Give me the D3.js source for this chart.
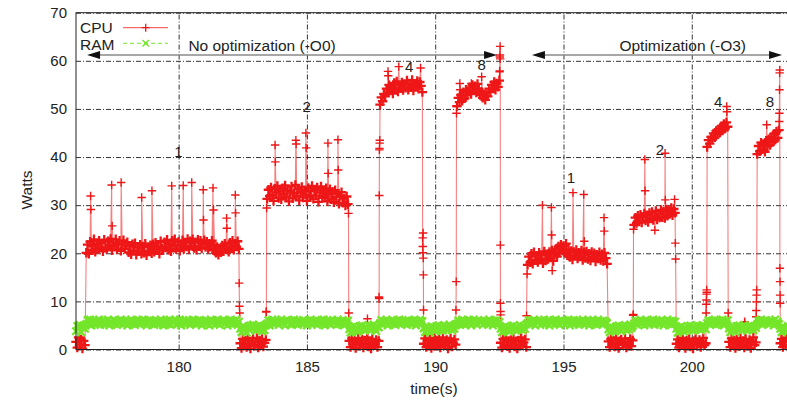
<!DOCTYPE html>
<html>
<head>
<meta charset="utf-8">
<script src="https://cdn.jsdelivr.net/npm/d3@7"></script>
<style>
  body { margin: 0; background: #fff; }
  svg { display: block; font-family: "Liberation Sans", Arial, Helvetica, sans-serif; }
</style>
</head>
<body>
<svg id="chart" width="787" height="400"></svg>
<script>
// readings every 0.05 s starting at 176.00 s, one row per second
const sampleStart = 176.0;
const sampleStep = 0.05;

const cpuWatts = [
  1.6, 0.4, 2.5, 1.0, 2.1, 0.2, 1.8, 0.9, 20.1, 21.8, 19.9, 22.4, 20.6, 21.5, 22.9, 20.3, 21.9, 20.8, 22.6, 21.2,
  22.1, 20.4, 22.8, 21.3, 20.9, 22.5, 21.7, 23.0, 20.6, 22.2, 21.4, 22.9, 20.8, 21.9, 22.6, 20.5, 21.8, 22.7, 20.9, 21.6,
  22.3, 20.2, 21.5, 19.8, 21.9, 20.6, 22.1, 19.7, 21.2, 20.4, 21.8, 19.9, 21.4, 20.1, 22.0, 19.6, 21.3, 20.5, 21.7, 20.0,
  21.9, 20.3, 22.2, 20.8, 21.4, 19.9, 22.5, 21.0, 20.6, 22.3, 21.2, 22.8, 20.7, 21.9, 20.4, 22.6, 21.5, 22.9, 20.9, 21.7,
  22.4, 20.5, 21.8, 22.7, 20.9, 22.2, 21.4, 23.0, 20.8, 22.5, 21.6, 22.9, 21.1, 22.3, 20.7, 22.8, 21.5, 22.6, 21.0, 22.1,
  22.7, 21.3, 22.4, 20.9, 22.0, 21.5, 22.6, 20.6, 21.7, 20.1, 21.3, 19.7, 21.0, 20.2, 21.6, 20.4, 22.0, 20.8, 21.4, 20.3,
  22.2, 21.0, 22.6, 20.7, 22.0, 21.4, 22.5, 20.9, 1.3, 0.3, 2.2, 0.8, 1.9, 0.5, 2.4, 1.1, 0.2, 1.7, 2.3, 0.7,
  1.5, 2.4, 0.4, 1.9, 0.9, 2.2, 0.6, 1.4, 2.0, 31.3, 33.2, 31.9, 33.7, 32.1, 30.9, 33.4, 32.6, 34.0, 31.5, 32.9,
  31.2, 33.5, 32.3, 34.1, 31.7, 33.0, 30.8, 32.8, 33.9, 31.4, 32.5, 34.2, 31.9, 33.3, 31.0, 32.7, 33.8, 31.6, 33.1, 32.2,
  30.9, 33.6, 31.8, 32.9, 34.0, 31.3, 33.2, 32.0, 33.7, 30.7, 32.6, 33.9, 31.5, 33.0, 31.9, 33.5, 30.8, 32.4, 33.3, 31.2,
  32.8, 30.6, 33.1, 31.7, 32.4, 30.3, 31.9, 32.7, 30.5, 31.4, 29.9, 31.8, 30.2, 1.8, 0.5, 2.3, 1.0, 2.0, 0.3, 1.6,
  2.4, 0.8, 1.3, 2.1, 0.4, 1.9, 1.1, 2.5, 0.6, 1.7, 0.2, 2.2, 1.4, 0.9, 2.0, 0.5, 1.8, 50.9, 52.4, 51.6,
  53.1, 52.6, 54.2, 53.4, 55.0, 53.8, 54.6, 53.2, 55.4, 54.1, 55.7, 53.6, 54.9, 54.3, 55.5, 53.9, 55.2, 54.4, 55.9, 54.0,
  55.3, 54.5, 56.0, 53.8, 55.1, 54.7, 55.8, 54.2, 55.6, 54.8, 53.5, 1.2, 2.3, 0.5, 1.8, 0.9, 2.1, 0.3, 1.5, 2.4,
  0.7, 1.9, 1.1, 2.2, 0.4, 1.6, 2.5, 0.8, 1.3, 2.0, 0.2, 1.7, 2.3, 0.6, 1.4, 2.1, 1.0, 50.6, 52.3, 51.4,
  52.9, 51.7, 53.5, 52.2, 54.0, 52.8, 53.6, 54.5, 53.1, 55.0, 53.9, 54.7, 53.4, 55.2, 54.1, 52.9, 53.6, 52.3, 53.0, 51.9,
  53.4, 52.6, 54.2, 53.5, 55.0, 54.3, 55.6, 54.0, 55.3, 54.6, 55.9, 1.4, 0.4, 2.2, 1.0, 2.4, 0.7, 1.8, 0.3, 2.0,
  1.2, 2.3, 0.6, 1.7, 0.2, 1.9, 1.0, 2.5, 0.8, 1.5, 2.1, 0.5, 17.6, 19.3, 18.1, 19.9, 17.8, 20.2, 18.6, 19.5,
  18.2, 20.1, 18.9, 19.6, 17.9, 20.4, 18.5, 19.8, 18.8, 20.3, 19.1, 20.6, 18.4, 19.7, 20.9, 19.3, 21.4, 20.2, 21.8, 20.6,
  21.5, 20.1, 22.0, 19.6, 20.8, 19.2, 20.5, 18.7, 20.3, 19.4, 20.7, 18.9, 20.1, 19.5, 20.6, 18.6, 20.2, 19.0, 20.4, 18.8,
  19.9, 18.5, 20.3, 19.2, 20.0, 18.3, 19.7, 18.9, 20.2, 18.6, 19.8, 18.4, 20.1, 19.0, 17.8, 1.7, 0.5, 2.2, 1.1, 1.9,
  0.6, 2.4, 1.3, 0.3, 1.8, 2.1, 0.9, 1.5, 2.3, 0.4, 1.6, 1.0, 2.2, 0.7, 1.9, 25.9, 27.4, 26.3, 27.8, 26.6,
  28.0, 26.4, 27.6, 28.3, 26.8, 27.9, 26.5, 28.4, 27.2, 28.6, 26.9, 27.7, 28.8, 27.0, 28.2, 27.4, 29.0, 27.5, 28.7, 27.3,
  29.1, 27.8, 28.9, 28.2, 29.4, 27.9, 29.2, 28.4, 1.2, 2.1, 0.4, 1.7, 0.9, 2.4, 1.4, 0.3, 1.9, 1.0, 2.2, 0.6,
  1.5, 0.2, 1.8, 2.3, 0.8, 1.2, 2.0, 0.5, 1.6, 2.4, 0.9, 1.3, 42.1, 43.5, 42.8, 44.2, 43.6, 44.9, 44.1, 45.4,
  44.7, 45.8, 45.1, 46.4, 45.5, 46.9, 45.9, 47.2, 46.3, 1.6, 0.5, 2.3, 1.1, 1.9, 0.3, 2.1, 1.4, 0.7, 2.4, 1.0,
  1.8, 0.4, 2.2, 1.2, 0.8, 2.0, 0.3, 1.7, 2.5, 0.9, 1.5, 40.6, 42.3, 41.2, 43.0, 41.6, 42.7, 41.1, 43.4, 42.2,
  43.7, 42.5, 44.2, 43.1, 44.8, 43.6, 45.3, 44.0, 45.6, 1.3, 2.2, 0.5, 1.8, 0.9, 2.4, 0.6, 1.6, 2.0, 0.3, 1.2
];

// extra cpu readings between the regular ones (spikes and switching edges), [time, watts]
const cpuSpikes = [
  [176.57, 31.9], [176.58, 29.1], [177.39, 34.2], [177.41, 25.7], [177.76, 34.7],
  [178.56, 31.6], [178.96, 33.0], [179.73, 34.0], [180.18, 34.1], [180.51, 34.7],
  [180.96, 33.2], [180.97, 26.9], [181.34, 33.6], [181.36, 29.0], [181.87, 27.3],
  [181.88, 25.2], [182.21, 32.1], [182.22, 28.4], [182.36, 13.8], [182.37, 9.0],
  [182.38, 7.6],
  [183.41, 7.8], [183.42, 7.9], [183.43, 29.4], [183.76, 42.5], [183.77, 39.0],
  [184.57, 43.5], [184.58, 42.7], [184.96, 45.0], [184.97, 41.9], [185.82, 42.9],
  [185.83, 36.6], [186.21, 43.6], [186.22, 37.3], [186.62, 28.3], [186.63, 7.6],
  [187.36, 6.4],
  [187.81, 10.9], [187.815, 10.6], [187.82, 32.0], [187.825, 41.5], [187.83, 41.8],
  [187.835, 42.9], [187.84, 43.5], [188.16, 57.8], [188.17, 56.9], [188.58, 58.8],
  [189.43, 58.5], [189.51, 23.2], [189.515, 21.4], [189.52, 20.1], [189.53, 24.2],
  [189.535, 19.0], [189.54, 15.5], [189.545, 8.2],
  [190.81, 8.2], [190.82, 14.1], [190.83, 49.1], [190.84, 50.5], [190.96, 55.3],
  [190.97, 54.0], [191.41, 55.3], [191.81, 56.7], [192.51, 57.7], [192.515, 57.9],
  [192.52, 60.8], [192.525, 61.2], [192.53, 63.0], [192.535, 60.4], [192.54, 21.7],
  [192.543, 9.6], [192.546, 7.9], [192.548, 7.2],
  [193.56, 7.0], [193.58, 15.7], [194.18, 30.0], [194.53, 29.5], [194.54, 23.8],
  [194.56, 16.4], [195.37, 32.6], [195.79, 32.2], [195.81, 22.5], [196.58, 27.4],
  [196.59, 24.6],
  [197.71, 7.1], [197.72, 7.3], [197.73, 25.0], [198.17, 39.5], [198.18, 33.0],
  [198.56, 24.8], [198.96, 40.8], [198.97, 31.1], [199.33, 31.2], [199.36, 22.1],
  [199.37, 18.8],
  [200.56, 7.6], [200.565, 9.4], [200.57, 10.3], [200.575, 11.5], [200.58, 12.4],
  [200.585, 11.9], [201.36, 50.5], [201.37, 49.4], [201.42, 7.6],
  [202.06, 5.8], [202.07, 5.5],
  [202.51, 6.8], [202.515, 8.1], [202.52, 9.9], [202.525, 11.3], [202.53, 12.4],
  [202.92, 46.7], [203.41, 47.4], [203.415, 49.1], [203.42, 54.0], [203.425, 57.5],
  [203.43, 58.1], [203.435, 16.9], [203.44, 14.1], [203.443, 11.3], [203.446, 9.6]
];

const ramWatts = [
  3.8, 4.9, 4.2, 5.1, 3.6, 4.6, 5.0, 4.3, 5.3, 6.1, 5.5, 6.2, 5.0, 5.8, 6.0, 5.2, 5.9, 5.4, 6.2, 5.1,
  5.7, 6.0, 5.2, 5.9, 5.4, 6.2, 5.0, 5.8, 5.5, 6.1, 5.3, 5.9, 5.1, 6.0, 5.6, 6.2, 5.2, 5.8, 5.4, 6.1,
  5.0, 5.9, 5.5, 6.2, 5.3, 5.8, 5.1, 6.0, 5.6, 6.1, 5.2, 5.7, 6.2, 5.4, 5.9, 5.0, 6.0, 5.5, 6.1, 5.3,
  5.8, 5.1, 6.1, 5.4, 5.9, 5.2, 6.2, 5.6, 5.0, 5.9, 5.5, 6.0, 5.3, 6.2, 5.1, 5.8, 5.6, 6.1, 5.2, 5.9,
  5.4, 6.2, 5.0, 5.7, 6.0, 5.3, 5.9, 5.5, 6.1, 5.1, 5.8, 6.2, 5.4, 5.9, 5.2, 6.0, 5.6, 6.1, 5.0, 5.8,
  5.5, 6.1, 5.3, 5.9, 5.0, 6.2, 5.6, 5.8, 5.2, 6.0, 5.4, 6.1, 5.1, 5.9, 5.7, 6.2, 5.3, 5.8, 5.0, 6.0,
  5.6, 6.1, 5.2, 5.9, 5.4, 6.2, 5.1, 5.8, 4.3, 3.6, 4.8, 3.9, 4.5, 3.5, 4.7, 4.1, 5.0, 4.4, 5.2, 4.6,
  3.9, 4.9, 4.2, 5.1, 4.4, 3.8, 4.8, 4.0, 5.0, 5.4, 6.1, 5.0, 5.8, 6.2, 5.3, 5.9, 5.5, 6.0, 5.1, 5.7,
  6.2, 5.4, 5.9, 5.0, 6.1, 5.6, 5.8, 5.2, 6.0, 5.3, 6.2, 5.5, 5.9, 5.1, 6.0, 5.7, 5.3, 6.1, 5.4, 5.8,
  5.0, 6.0, 5.6, 6.2, 5.2, 5.9, 5.4, 6.1, 5.1, 5.8, 5.5, 6.0, 5.3, 6.2, 5.0, 5.7, 6.1, 5.4, 5.9, 5.2,
  6.0, 5.5, 5.8, 5.1, 6.2, 5.3, 5.9, 5.6, 6.1, 5.0, 5.8, 5.4, 6.0, 4.2, 3.5, 4.6, 3.8, 4.9, 4.0, 4.5,
  3.7, 4.8, 4.1, 5.0, 4.3, 3.9, 4.7, 4.4, 5.1, 4.0, 4.9, 4.2, 5.2, 4.5, 3.8, 4.8, 4.6, 5.5, 6.1, 5.2,
  5.9, 5.4, 6.2, 5.0, 5.8, 5.6, 6.1, 5.3, 5.9, 5.1, 6.0, 5.5, 6.2, 5.2, 5.7, 6.0, 5.4, 5.9, 5.1, 6.1,
  5.6, 5.3, 6.0, 5.5, 6.2, 5.0, 5.8, 5.4, 6.1, 5.2, 5.9, 4.4, 3.6, 4.7, 3.9, 4.3, 3.5, 4.8, 4.1, 4.6,
  3.8, 4.9, 4.2, 5.0, 4.0, 4.6, 3.9, 5.1, 4.4, 4.8, 4.1, 5.2, 4.5, 4.0, 4.9, 4.3, 5.0, 5.4, 6.0, 5.2,
  5.8, 6.2, 5.3, 5.9, 5.1, 6.0, 5.5, 6.1, 5.0, 5.7, 6.2, 5.4, 5.9, 5.2, 6.0, 5.6, 5.8, 5.1, 6.1, 5.5,
  5.9, 5.2, 6.2, 5.4, 5.8, 5.0, 6.0, 5.6, 6.1, 5.3, 5.7, 4.3, 3.6, 4.6, 3.8, 4.9, 4.0, 4.5, 3.7, 4.8,
  4.2, 5.0, 4.4, 3.9, 4.7, 4.1, 5.1, 4.5, 4.0, 4.9, 4.3, 5.2, 5.5, 6.1, 5.2, 5.9, 5.4, 6.2, 5.0, 5.8,
  5.6, 6.0, 5.1, 5.9, 5.4, 6.2, 5.3, 5.7, 6.1, 5.0, 5.8, 5.5, 6.0, 5.2, 6.2, 5.4, 5.9, 5.1, 6.1, 5.6,
  5.8, 5.2, 6.0, 5.5, 6.2, 5.0, 5.9, 5.4, 6.1, 5.3, 5.7, 6.0, 5.1, 5.9, 5.6, 6.2, 5.2, 5.8, 5.4, 6.1,
  5.0, 5.9, 5.5, 6.1, 5.3, 5.8, 5.1, 6.2, 5.6, 5.9, 5.2, 6.0, 5.4, 5.8, 5.5, 4.2, 3.6, 4.7, 3.9, 4.5,
  3.7, 4.8, 4.1, 5.0, 4.3, 3.8, 4.9, 4.4, 5.1, 4.0, 4.7, 4.2, 5.2, 4.5, 4.9, 5.4, 6.0, 5.2, 5.9, 5.6,
  6.2, 5.3, 5.8, 5.0, 6.1, 5.5, 5.9, 5.2, 6.0, 5.4, 6.2, 5.1, 5.7, 6.0, 5.3, 5.9, 5.5, 6.1, 5.0, 5.8,
  5.6, 6.2, 5.3, 5.9, 5.1, 6.0, 5.4, 5.8, 4.3, 3.5, 4.6, 3.8, 4.9, 4.1, 3.7, 4.5, 4.0, 4.8, 4.2, 5.0,
  4.4, 3.9, 4.7, 4.1, 5.1, 4.3, 4.8, 4.0, 5.0, 4.5, 4.9, 4.2, 5.5, 6.1, 5.2, 5.8, 6.0, 5.4, 6.2, 5.1,
  5.9, 5.3, 6.0, 5.6, 6.2, 5.0, 5.8, 5.5, 6.1, 4.4, 3.6, 4.8, 3.9, 4.5, 3.7, 4.9, 4.2, 5.0, 4.3, 4.7,
  4.1, 5.1, 4.4, 3.9, 4.8, 4.2, 5.0, 4.6, 4.0, 4.9, 4.5, 5.3, 6.0, 5.5, 6.2, 5.1, 5.9, 5.4, 6.1, 5.7,
  5.2, 6.0, 5.6, 5.9, 5.0, 6.2, 5.4, 5.8, 5.3, 4.3, 3.6, 4.7, 3.9, 4.5, 3.8, 4.9, 4.1, 4.6, 4.0, 4.8
];

const xTicks = [180, 185, 190, 195, 200];
const yTicks = [0, 10, 20, 30, 40, 50, 60, 70];

// thread-count labels: [time, watts, text]
const runLabels = [
  [179.99, 41.1, "1"], [184.99, 50.5, "2"], [188.99, 58.8, "4"], [191.81, 59.1, "8"],
  [195.29, 35.6, "1"], [198.76, 41.6, "2"], [201.03, 51.5, "4"], [203.05, 51.5, "8"]
];

// phase arrows: [from, to, label, label start]
const phaseArrows = [
  [176.43, 192.41, "No optimization (-O0)", 180.38],
  [193.77, 203.52, "Optimization (-O3)", 197.18]
];
const arrowWatts = 61.2;

const svg = d3.select("#chart");
const plotLeft = 76, plotRight = 794.4, plotTop = 12.7, plotBottom = 349.5;

const x = d3.scaleLinear().domain([176, 204]).range([plotLeft, plotRight]);
const y = d3.scaleLinear().domain([0, 70]).range([plotBottom, plotTop]);

const red = "#ee1616";
const green = "#74e62a";
const font = '"Liberation Sans", Arial, Helvetica, sans-serif';

// axes + grid
const gy = svg.append("g")
  .attr("transform", `translate(${plotLeft},0)`)
  .call(d3.axisLeft(y).tickValues(yTicks).tickSize(-(plotRight - plotLeft)).tickPadding(9));
const gx = svg.append("g")
  .attr("transform", `translate(0,${plotBottom})`)
  .call(d3.axisBottom(x).tickValues(xTicks).tickSize(-(plotBottom - plotTop)).tickPadding(11.5));

[gx, gy].forEach((g) => {
  g.attr("font-size", 15).attr("font-family", font);
  g.select(".domain").remove();
  g.selectAll(".tick line")
    .attr("stroke", "#111")
    .attr("stroke-opacity", 0.85)
    .attr("stroke-dasharray", "5,2,1,2");
  g.selectAll(".tick text").attr("fill", "#222");
});

// merge regular readings with the extra ones
const cpuRegular = cpuWatts.map((w, i) => [+(sampleStart + i * sampleStep).toFixed(3), w]);
const cpuPoints = cpuRegular.concat(cpuSpikes).sort((a, b) => a[0] - b[0]);
const ramPoints = ramWatts.map((w, i) => [+(sampleStart + i * sampleStep).toFixed(3), w]);

const line = d3.line().x((d) => x(d[0])).y((d) => y(d[1]));

const plusPath = (pts, r) =>
  pts.map((p) => {
    const cx = x(p[0]), cy = y(p[1]);
    return `M${cx - r},${cy}h${2 * r}M${cx},${cy - r}v${2 * r}`;
  }).join("");
const crossPath = (pts, r) =>
  pts.map((p) => {
    const cx = x(p[0]), cy = y(p[1]);
    return `M${cx - r},${cy - r}l${2 * r},${2 * r}M${cx - r},${cy + r}l${2 * r},${-2 * r}`;
  }).join("");

// CPU
svg.append("path")
  .attr("d", line(cpuPoints))
  .attr("fill", "none")
  .attr("stroke", red)
  .attr("stroke-opacity", 0.55)
  .attr("stroke-width", 1.1);
// the dense regular readings merge into a solid band, the sparse ones stay thin
svg.append("path")
  .attr("d", plusPath(cpuRegular, 4.7))
  .attr("fill", "none")
  .attr("stroke", red)
  .attr("stroke-width", 2.3);
svg.append("path")
  .attr("d", plusPath(cpuSpikes, 4.2))
  .attr("fill", "none")
  .attr("stroke", red)
  .attr("stroke-width", 1.4);

// RAM
svg.append("path")
  .attr("d", line(ramPoints))
  .attr("fill", "none")
  .attr("stroke", green)
  .attr("stroke-width", 1)
  .attr("stroke-dasharray", "4,3");
svg.append("path")
  .attr("d", crossPath(ramPoints, 3.7))
  .attr("fill", "none")
  .attr("stroke", green)
  .attr("stroke-width", 2.4);

// border
svg.append("rect")
  .attr("x", plotLeft).attr("y", plotTop)
  .attr("width", plotRight - plotLeft).attr("height", plotBottom - plotTop)
  .attr("fill", "none")
  .attr("stroke", "#222")
  .attr("stroke-width", 1);

// phase arrows
const ay = y(arrowWatts);
phaseArrows.forEach(([from, to, label, labelAt]) => {
  const x0 = x(from), x1 = x(to);
  svg.append("line")
    .attr("x1", x0 + 8).attr("x2", x1 - 8)
    .attr("y1", ay).attr("y2", ay)
    .attr("stroke", "#8a8a8a")
    .attr("stroke-width", 1.5);
  svg.append("path")
    .attr("d", `M${x0},${ay}L${x0 + 13},${ay - 4}L${x0 + 13},${ay + 4}Z`)
    .attr("fill", "#111");
  svg.append("path")
    .attr("d", `M${x1},${ay}L${x1 - 13},${ay - 4}L${x1 - 13},${ay + 4}Z`)
    .attr("fill", "#111");
  svg.append("text")
    .attr("x", x(labelAt))
    .attr("y", ay - 4)
    .attr("font-size", 15.5)
    .attr("fill", "#222")
    .text(label);
});

// thread counts
svg.selectAll("text.run")
  .data(runLabels)
  .enter()
  .append("text")
  .attr("class", "run")
  .attr("x", (d) => x(d[0]))
  .attr("y", (d) => y(d[1]))
  .attr("dy", "0.35em")
  .attr("text-anchor", "middle")
  .attr("font-size", 15)
  .attr("fill", "#222")
  .text((d) => d[2]);

// legend
const legend = svg.append("g").attr("font-size", 15.5).attr("fill", "#222");
legend.append("text").attr("x", 80).attr("y", 33).text("CPU");
legend.append("text").attr("x", 80).attr("y", 49.5).text("RAM");
legend.append("line")
  .attr("x1", 123).attr("x2", 168).attr("y1", 27.7).attr("y2", 27.7)
  .attr("stroke", red).attr("stroke-opacity", 0.8).attr("stroke-width", 1);
legend.append("path")
  .attr("d", "M141.7,27.7h8M145.7,23.7v8")
  .attr("stroke", red).attr("stroke-width", 1.3);
legend.append("line")
  .attr("x1", 123).attr("x2", 168).attr("y1", 43.3).attr("y2", 43.3)
  .attr("stroke", green).attr("stroke-width", 1).attr("stroke-dasharray", "4,3");
legend.append("path")
  .attr("d", "M142.5,40.1l6.4,6.4M142.5,46.5l6.4,-6.4")
  .attr("stroke", green).attr("stroke-width", 1.4);

// axis titles
svg.append("text")
  .attr("transform", "translate(27,190) rotate(-90)")
  .attr("text-anchor", "middle")
  .attr("dy", "0.35em")
  .attr("font-size", 15.5)
  .attr("fill", "#222")
  .text("Watts");
svg.append("text")
  .attr("x", 434)
  .attr("y", 394)
  .attr("text-anchor", "middle")
  .attr("font-size", 15.5)
  .attr("fill", "#222")
  .text("time(s)");
</script>
</body>
</html>
